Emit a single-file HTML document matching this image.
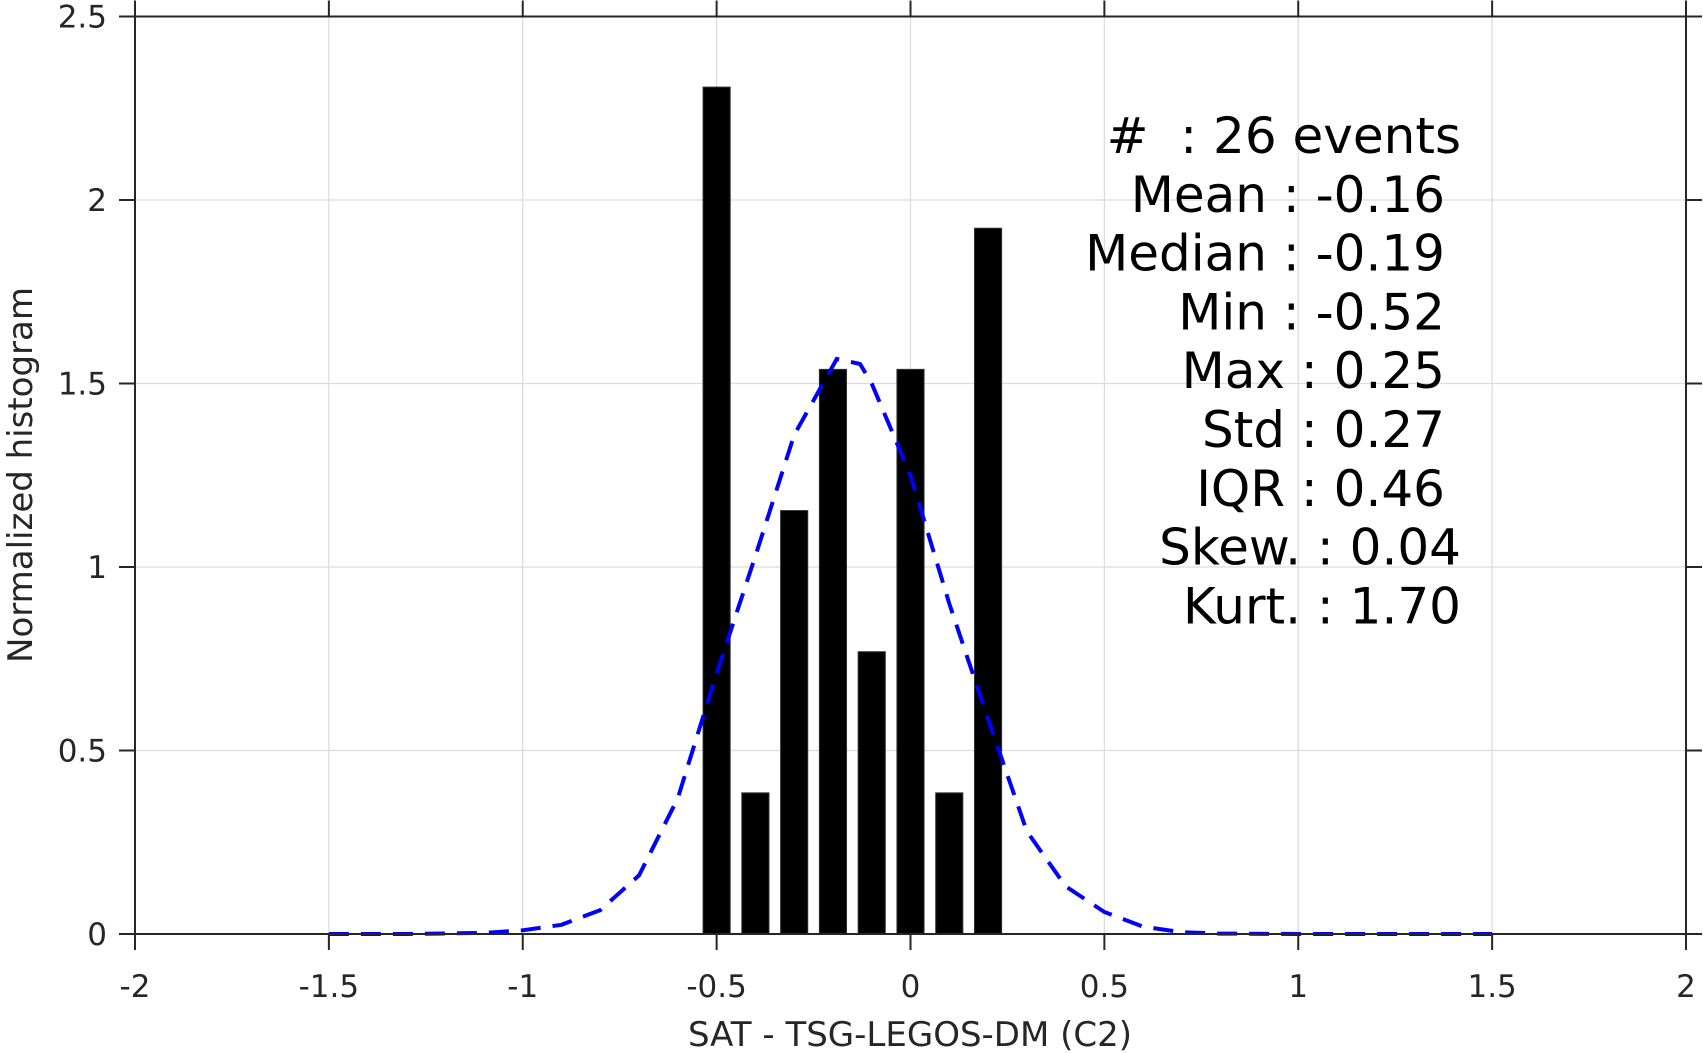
<!DOCTYPE html>
<html><head><meta charset="utf-8"><style>
html,body{margin:0;padding:0;background:#fff;}
svg{display:block;font-family:"DejaVu Sans","Liberation Sans",sans-serif;}
</style></head><body>
<svg id="chart" width="1703" height="1053" viewBox="0 0 1703 1053" xmlns="http://www.w3.org/2000/svg">
<g id="grid"></g>
<g id="bars"></g>
<g id="curve"></g>
<g id="axes"></g>
<g id="stats"></g>
<text x="910" y="1046" font-size="34" fill="#262626" text-anchor="middle">SAT - TSG-LEGOS-DM (C2)</text>
<text transform="translate(32,475) rotate(-90)" font-size="34" fill="#262626" text-anchor="middle">Normalized histogram</text>
</svg>
<script>
const binCenters=[-0.5,-0.4,-0.3,-0.2,-0.1,0,0.1,0.2];
const binValues=[2.3077,0.3846,1.1538,1.5385,0.7692,1.5385,0.3846,1.9231];
const curveX=[-1.5,-1.3,-1.1,-1.0,-0.9,-0.8,-0.7,-0.6,-0.5,-0.4,-0.3,-0.19,-0.13,-0.1,0,0.1,0.2,0.3,0.4,0.5,0.6,0.7,0.8,1.0,1.5];
const curveY=[0,0,0.003,0.01,0.025,0.065,0.16,0.37,0.71,1.03,1.36,1.567,1.553,1.5,1.25,0.9,0.585,0.28,0.13,0.06,0.02,0.005,0.001,0,0];
const xTicks=[-2,-1.5,-1,-0.5,0,0.5,1,1.5,2];
const xTickLabels=["-2","-1.5","-1","-0.5","0","0.5","1","1.5","2"];
const yTicks=[0,0.5,1,1.5,2,2.5];
const yTickLabels=["0","0.5","1","1.5","2","2.5"];
const statLines=["#  : 26 events","Mean : -0.16","Median : -0.19","Min : -0.52","Max : 0.25","Std : 0.27","IQR : 0.46","Skew. : 0.04","Kurt. : 1.70"];
const statRight=[1461,1445,1445,1445,1445,1445,1445,1461,1461];
const binWidth=0.07;
const L=135,R=1686,T=16.5,B=934;
const xs=v=>L+(v+2)/4*(R-L);
const ys=v=>B-v/2.5*(B-T);
const NS="http://www.w3.org/2000/svg";
function mk(tag,attrs,parent){const e=document.createElementNS(NS,tag);for(const k in attrs)e.setAttribute(k,attrs[k]);parent.appendChild(e);return e;}
const grid=document.getElementById('grid'),axes=document.getElementById('axes'),bars=document.getElementById('bars'),curve=document.getElementById('curve'),stats=document.getElementById('stats');
xTicks.forEach((t,i)=>{
  const g=mk('line',{x1:xs(t),x2:xs(t),y1:T,y2:B,stroke:'#dcdcdc','stroke-width':1.3},grid);
  
  
  const tk=mk('line',{x1:xs(t),x2:xs(t),y1:B,y2:B+16,stroke:'#262626','stroke-width':2},axes);
  
  
  const tk2=mk('line',{x1:xs(t),x2:xs(t),y1:T,y2:T-16,stroke:'#262626','stroke-width':2},axes);
  
  
  const lb=mk('text',{x:xs(t),y:997,'font-size':31,fill:'#262626','text-anchor':'middle'},axes);
  lb.textContent=xTickLabels[i];
  
  
});
yTicks.forEach((t,i)=>{
  const g=mk('line',{x1:L,x2:R,y1:ys(t),y2:ys(t),stroke:'#dcdcdc','stroke-width':1.3},grid);
  
  
  const tk=mk('line',{x1:L-16,x2:L,y1:ys(t),y2:ys(t),stroke:'#262626','stroke-width':2},axes);
  
  
  const tk2=mk('line',{x1:R,x2:R+16,y1:ys(t),y2:ys(t),stroke:'#262626','stroke-width':2},axes);
  
  
  const lb=mk('text',{x:107,y:ys(t)+11,'font-size':31,fill:'#262626','text-anchor':'end'},axes);
  lb.textContent=yTickLabels[i];
  
  
});
const frame=mk('rect',{x:L,y:T,width:R-L,height:B-T,fill:'none',stroke:'#262626','stroke-width':2},axes);


binCenters.forEach((c,i)=>{
  const x0=xs(c-binWidth/2),x1=xs(c+binWidth/2);
  const r=mk('rect',{x:x0,y:ys(binValues[i]),width:x1-x0,height:B-ys(binValues[i]),fill:'#000',stroke:'#333','stroke-width':1},bars);
  
  
});
const pts=curveX.map((x,i)=>xs(x).toFixed(1)+','+ys(curveY[i]).toFixed(1)).join(' ');
const pl=mk('polyline',{points:pts,fill:'none',stroke:'#0000ff','stroke-width':4,'stroke-dasharray':'20,12'},curve);


statLines.forEach((s,i)=>{
  const t=mk('text',{x:statRight[i],y:153+i*58.8,'font-size':50,fill:'#000','text-anchor':'end','xml:space':'preserve'},stats);
  t.style.whiteSpace='pre';
  t.textContent=s;
  
  
});
</script>
</body></html>
